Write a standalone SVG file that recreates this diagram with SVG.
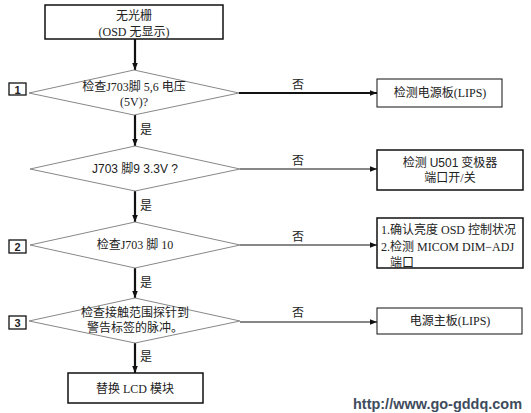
<svg xmlns="http://www.w3.org/2000/svg" width="531" height="413" viewBox="0 0 531 413">
<defs>
<marker id="ah" viewBox="0 0 10 10" refX="10" refY="5" markerWidth="7" markerHeight="7" markerUnits="userSpaceOnUse" orient="auto">
<path d="M0,1 L10,5 L0,9 Z" fill="#111"/>
</marker>
</defs>
<style>
text{font-family:"Liberation Serif","Noto Sans CJK SC",serif;font-size:12px;fill:#222;text-anchor:middle;dominant-baseline:central}
.sans{font-family:"Liberation Sans","Noto Sans CJK SC",sans-serif}
.box{fill:#fff;stroke:#111;stroke-width:1.5}
.thin{fill:#fff;stroke:#111;stroke-width:1}
.dia{fill:#fff;stroke:#888;stroke-width:1}
.num{fill:#fff;stroke:#111;stroke-width:1.3}
.lbl{font-family:"Liberation Sans",sans-serif;font-size:11px;font-weight:bold}
.c{fill:none;stroke:#111}
.thick{stroke-width:2.2}
.th{stroke-width:1.2}
.wm{font-family:"Liberation Sans",sans-serif;font-weight:bold;font-size:15px;fill:#3e4b5c;text-anchor:start}
</style>
<rect width="531" height="413" fill="#fff"/>
<g id="connectors">
<line class="c thick" x1="135" y1="39" x2="135" y2="70" marker-end="url(#ah)"/>
<line class="c thick" x1="135" y1="115" x2="135" y2="146" marker-end="url(#ah)"/>
<line class="c thick" x1="135" y1="191" x2="135" y2="222" marker-end="url(#ah)"/>
<line class="c thick" x1="135" y1="268" x2="135" y2="298" marker-end="url(#ah)"/>
<line class="c thick" x1="135" y1="343" x2="135" y2="373" marker-end="url(#ah)"/>
<line class="c thick" x1="239" y1="93" x2="377" y2="93" marker-end="url(#ah)"/>
<line class="c th" x1="240" y1="169" x2="377" y2="169" marker-end="url(#ah)"/>
<line class="c th" x1="240" y1="245" x2="377" y2="245" marker-end="url(#ah)"/>
<line class="c th" x1="240" y1="322" x2="377" y2="322" marker-end="url(#ah)"/>
<text x="298" y="85">否</text>
<text x="298" y="161">否</text>
<text x="298" y="237">否</text>
<text x="298" y="313">否</text>
<text x="146" y="130">是</text>
<text x="146" y="206">是</text>
<text x="146" y="283">是</text>
<text x="146" y="357">是</text>
</g>
<g id="start">
<rect class="box" x="45" y="5" width="178" height="34"/>
<text x="134" y="16">无光栅</text>
<text x="134" y="32">(OSD 无显示)</text>
</g>
<g id="d1">
<polygon class="dia" points="134,70 239,93 134,115 29,93"/>
<text x="134" y="87">检查J703脚 5,6 电压</text>
<text x="134" y="102">(5V)?</text>
</g>
<g id="n1">
<rect class="num" x="9" y="83" width="17" height="12"/>
<text class="lbl" x="17.5" y="89.5">1</text>
</g>
<g id="d2">
<polygon class="dia" points="135,146 240,169 135,191 30,169"/>
<text class="sans" x="135" y="169">J703 脚9 3.3V ?</text>
</g>
<g id="d3">
<polygon class="dia" points="135,222 240,245 135,268 30,245"/>
<text x="135" y="245">检查J703 脚 10</text>
</g>
<g id="n2">
<rect class="num" x="9" y="240" width="17" height="13"/>
<text class="lbl" x="17.5" y="246.5">2</text>
</g>
<g id="d4">
<polygon class="dia" points="135,298 240,321 135,343 29,321"/>
<text x="135" y="313">检查接触范围探针到</text>
<text x="135" y="328">警告标签的脉冲。</text>
</g>
<g id="n3">
<rect class="num" x="9" y="316" width="17" height="13"/>
<text class="lbl" x="17.5" y="322.5">3</text>
</g>
<g id="end">
<rect class="box" x="68" y="373" width="135" height="30"/>
<text x="135" y="389">替换 LCD 模块</text>
</g>
<g id="r1">
<rect class="thin" x="377" y="79" width="125" height="28"/>
<text x="440" y="93">检测电源板(LIPS)</text>
</g>
<g id="r2">
<rect class="box" x="377" y="150" width="146" height="40"/>
<text x="450" y="163"><tspan>检测 </tspan><tspan class="sans">U501</tspan><tspan> 变极器</tspan></text>
<text x="450" y="178">端口开/关</text>
</g>
<g id="r3">
<rect class="box" x="377" y="218" width="146" height="50"/>
<text x="381" y="230" style="text-anchor:start">1.确认亮度 OSD 控制状况</text>
<text x="381" y="247" style="text-anchor:start">2.检测 MICOM DIM−ADJ</text>
<text x="390" y="263" style="text-anchor:start">端口</text>
</g>
<g id="r4">
<rect class="thin" x="377" y="308" width="145" height="26"/>
<text x="450" y="321">电源主板(LIPS)</text>
</g>
<text class="wm" x="353" y="403" textLength="169" lengthAdjust="spacingAndGlyphs">http://www.go-gddq.com</text>
</svg>
